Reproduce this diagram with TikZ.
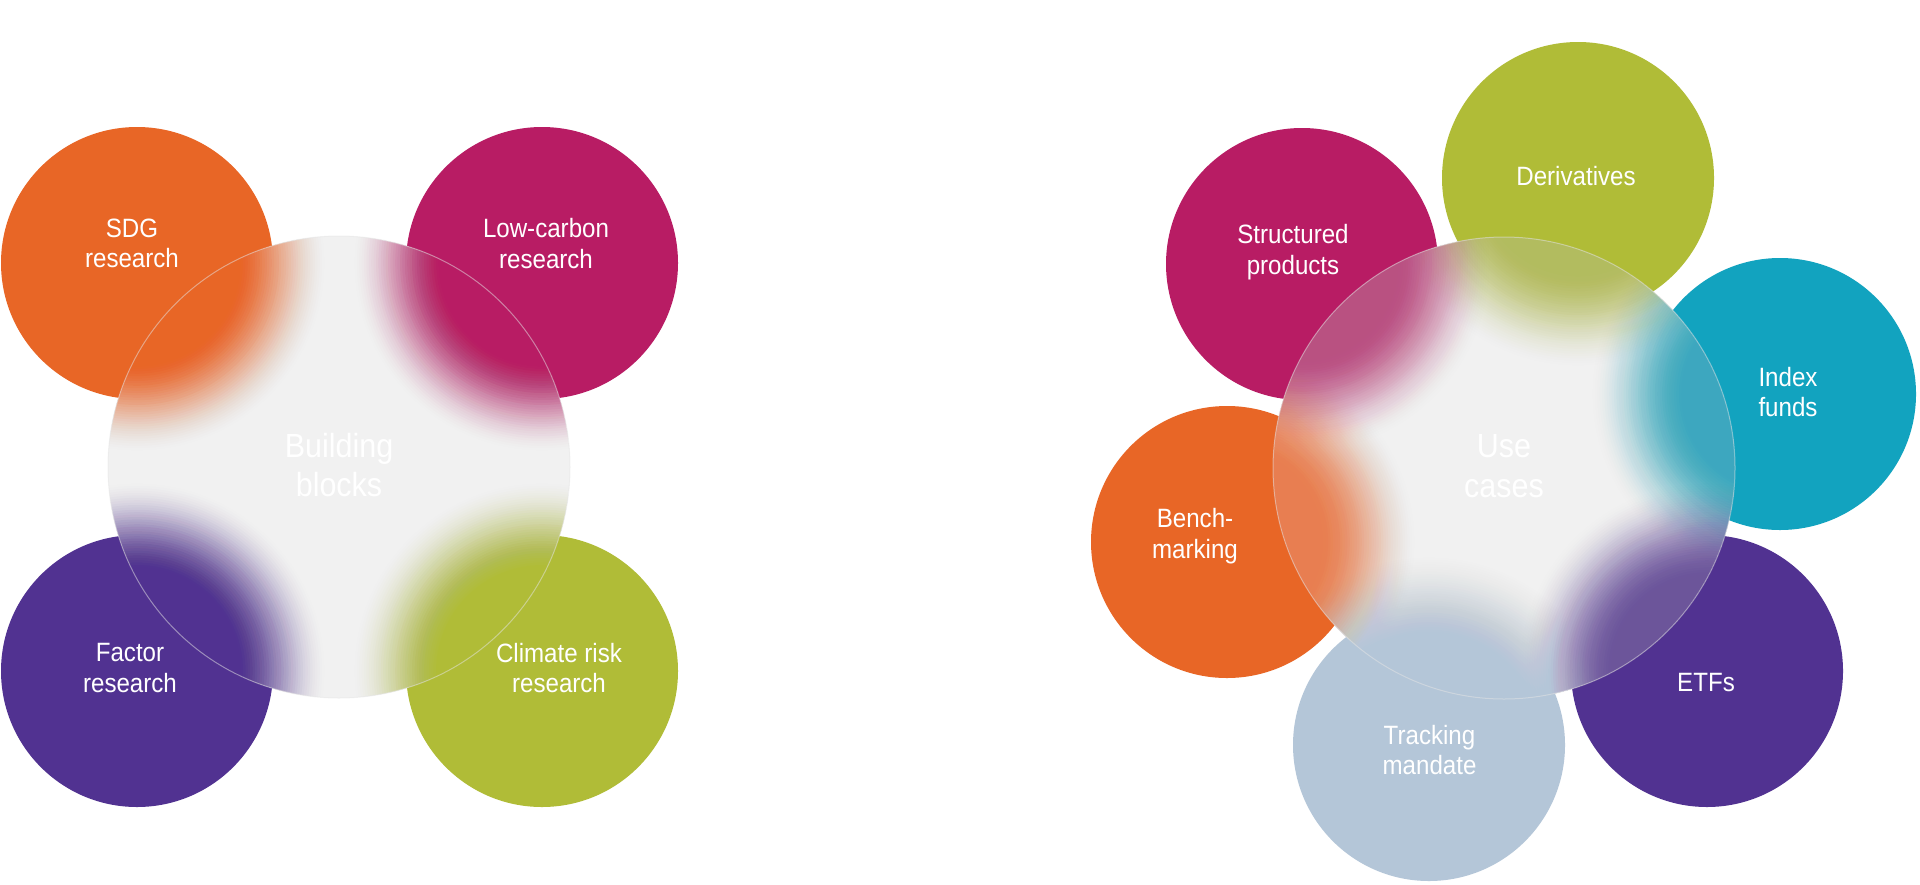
\documentclass[tikz,border=0pt]{standalone}
\usepackage{fontspec}
\setmainfont{Liberation Sans}[FakeStretch=0.91]
\newfontfamily\titlefam{Liberation Sans}[FakeStretch=0.76]
\definecolor{cOrange}{HTML}{E86626}
\definecolor{cMagenta}{HTML}{B81C64}
\definecolor{cPurple}{HTML}{513291}
\definecolor{cGreen}{HTML}{B0BC37}
\definecolor{cTeal}{HTML}{12A3BF}
\definecolor{cBlue}{HTML}{B4C6D8}
\definecolor{cGlass}{HTML}{F1F1F1}
\tikzset{
  disc/.style={circle, fill=#1, draw=none, minimum size=136pt, inner sep=0pt},
  glassdisc/.style={circle, minimum size=231pt, inner sep=0pt},
  lbl/.style={text=white, align=center, font=\fontsize{13.25}{15.25}\selectfont, inner sep=0pt},
  biglbl/.style={text=white, align=center, font=\fontsize{16.75}{19.75}\selectfont, inner sep=0pt},
  ttl/.style={text=white, anchor=base west, inner sep=0pt, font=\titlefam\bfseries\fontsize{19}{22}\selectfont},
  glassrim/.style={draw=black!10, line width=0.5pt, opacity=0.5},
}
% blurred copy of a disc: stacked discs whose combined opacity follows a smooth ramp
% #1 colour, #2 node, #3 maximal opacity
\newcommand\glassblob[3]{%
  \foreach \k in {1,...,40}{%
    \pgfmathsetmacro\uk{(\k-0.5)/40}%
    \pgfmathsetmacro\ukk{(\k+0.5)/40}%
    \pgfmathsetmacro\fk{#3*(1-(3*\uk*\uk-2*\uk*\uk*\uk))}%
    \pgfmathsetmacro\fkk{\k==40 ? 0 : #3*(1-(3*\ukk*\ukk-2*\ukk*\ukk*\ukk))}%
    \pgfmathsetmacro\ak{1-(1-\fk)/(1-\fkk)}%
    \pgfmathsetmacro\rk{(136-42+2.4*\k)*0.5}%
    \fill[#1, opacity=\ak] (#2.center) circle[radius=\rk pt];
  }%
}
\begin{document}
\begin{tikzpicture}[x=0.5pt, y=-0.5pt]
\fill[white] (0,0) rectangle (1920,884);
\useasboundingbox (0,0) rectangle (1920,884);

% titles
\node[ttl] (t1) at (5,31) {Customizing Robeco Indices};
\node[ttl] (t2) at (1088,32) {Using Robeco Indices};

% ---------- left diagram ----------
\node[disc=cOrange]  (sdg)  at (137,263) {};
\node[disc=cMagenta] (lowc) at (542,263) {};
\node[disc=cPurple]  (fact) at (137,671) {};
\node[disc=cGreen]   (clim) at (542,671) {};
\node[glassdisc] (bb) at (339,467) {};
\begin{scope}
  \clip (bb.center) circle[radius=115.5pt];
  \fill[cGlass] (bb.center) circle[radius=115.5pt];
  \glassblob{cOrange}{sdg}{0.96}
  \glassblob{cMagenta}{lowc}{0.96}
  \glassblob{cPurple}{fact}{0.96}
  \glassblob{cGreen}{clim}{0.96}
\end{scope}
\draw[glassrim] (bb.center) circle[radius=115.5pt];

\node[lbl] (lsdg)  at (132,243.5) {SDG\\research};
\node[lbl] (llowc) at (546,243.5) {Low-carbon\\research};
\node[lbl] (lfact) at (130,668) {Factor\\research};
\node[lbl] (lclim) at (559,668) {Climate risk\\research};
\node[biglbl] (lbb) at (339,465) {Building\\blocks};

% ---------- right diagram ----------
\node[disc=cGreen]   (deriv)  at (1578,178) {};
\node[disc=cMagenta] (struct) at (1302,264) {};
\node[disc=cTeal]    (index)  at (1780,394) {};
\node[disc=cOrange]  (bench)  at (1227,542) {};
\node[disc=cPurple]  (etf)    at (1707,671) {};
\node[disc=cBlue]    (track)  at (1429,745) {};
\node[glassdisc] (uc) at (1504,468) {};
\begin{scope}
  \clip (uc.center) circle[radius=115.5pt];
  \fill[cGlass] (uc.center) circle[radius=115.5pt];
  \glassblob{cGreen}{deriv}{0.72}
  \glassblob{cMagenta}{struct}{0.7}
  \glassblob{cTeal}{index}{0.75}
  \glassblob{cOrange}{bench}{0.72}
  \glassblob{cPurple}{etf}{0.75}
  \glassblob{cBlue}{track}{0.85}
\end{scope}
\draw[glassrim] (uc.center) circle[radius=115.5pt];

\node[lbl] (lderiv)  at (1576,176.5) {Derivatives};
\node[lbl] (lstruct) at (1293,252) {Structured\\products};
\node[lbl] (lindex)  at (1788,392) {Index\\funds};
\node[lbl] (lbench)  at (1195,536) {Bench-\\marking};
\node[lbl] (letf)    at (1706,683) {ETFs};
\node[lbl] (ltrack)  at (1429.5,750) {Tracking\\mandate};
\node[biglbl] (luc) at (1504,466) {Use\\cases};
\end{tikzpicture}
\end{document}
